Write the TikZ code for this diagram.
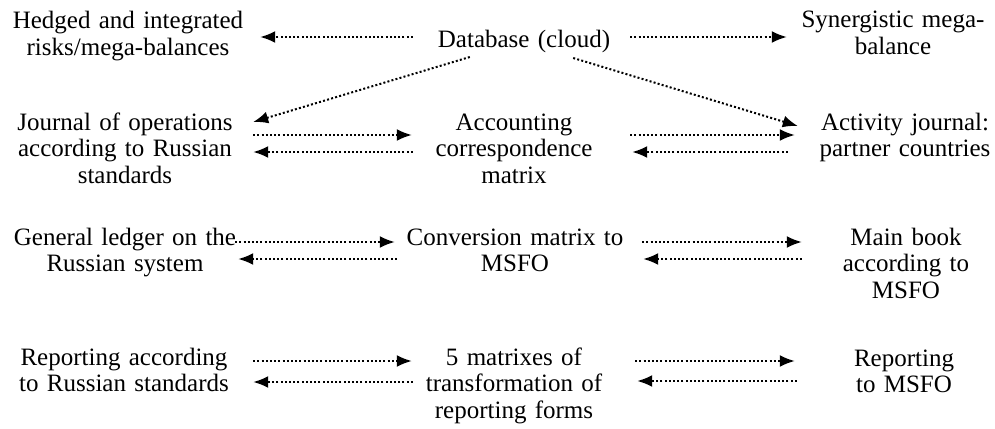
\documentclass[tikz,border=0pt]{standalone}
\usepackage{fontspec}
\setmainfont{Liberation Serif}
\usetikzlibrary{arrows.meta,calc}
\begin{document}
\begin{tikzpicture}[x=1pt,y=-1pt,
  lbl/.style={inner sep=0pt, align=center, font=\fontsize{25}{26.8}\selectfont, anchor=base},
  lcol/.style={lbl, text width=250pt},
  mcol/.style={lbl, text width=250pt},
  rcol/.style={lbl, text width=200pt},
  link/.style={line width=2pt, dash pattern=on 2pt off 2.2pt,
    -{Latex[length=15pt,width=12pt]}}]
\useasboundingbox (0,0) rectangle (995,428);

% text blocks
\node[lcol] (hedge) at (128,29) {Hedged and integrated\\risks/mega-balances};
\node[lbl, text width=200pt] (db) at (524,48) {Database (cloud)};
\node[rcol] (syn) at (893,28) {Synergistic mega-\\balance};
\node[lcol] (jro) at (125,130) {Journal of operations\\according to Russian\\standards};
\node[mcol] (acm) at (514,130) {Accounting\\correspondence\\matrix};
\node[rcol] (act) at (905,130) {Activity journal:\\partner countries};
\node[lcol] (glr) at (125,245) {General ledger on the\\Russian system};
\node[mcol] (cmx) at (515,245) {Conversion matrix to\\MSFO};
\node[rcol] (mbk) at (906,245) {Main book\\according to\\MSFO};
\node[lcol] (rru) at (124,365) {Reporting according\\to Russian standards};
\node[mcol] (tmx) at (514,365) {5 matrixes of\\transformation of\\reporting forms};
\node[rcol] (rms) at (904,366) {Reporting\\to MSFO};

% database links
\draw[link] ($(db.west |- 0,37)+(-11,0)$) -- ($(hedge.east |- 0,37)+(7,0)$);
\draw[link] ($(db.east |- 0,37)+(6,0)$) -- ($(syn.west |- 0,37)+(-6,0)$);
\draw[link] ($(db.west |- 0,57)+(46,0)$) -- ($(jro.east |- 0,122)+(3,0)$);
\draw[link] ($(db.east |- 0,58)+(-51,0)$) -- ($(act.west |- 0,126)+(-7,0)$);

% journals
\draw[link] ($(jro.east |- 0,135)+(3,0)$) -- ($(acm.west |- 0,135)+(23,0)$);
\draw[link] ($(acm.west |- 0,152)+(24,0)$) -- ($(jro.east |- 0,152)+(3,0)$);
\draw[link] ($(acm.east |- 0,135)+(-9,0)$) -- ($(act.west |- 0,135)+(-10,0)$);
\draw[link] ($(act.west |- 0,152)+(-17,0)$) -- ($(acm.east |- 0,152)+(-7,0)$);

% ledgers
\draw[link] ($(glr.east |- 0,242)+(-15,0)$) -- ($(cmx.west |- 0,242)+(5,0)$);
\draw[link] ($(cmx.west |- 0,259)+(7,0)$) -- ($(glr.east |- 0,259)+(-12,0)$);
\draw[link] ($(cmx.east |- 0,242)+(2,0)$) -- ($(mbk.west |- 0,242)+(-4,0)$);
\draw[link] ($(mbk.west |- 0,259)+(-4,0)$) -- ($(cmx.east |- 0,259)+(3,0)$);

% reporting
\draw[link] ($(rru.east |- 0,361)+(4,0)$) -- ($(tmx.west |- 0,361)+(23,0)$);
\draw[link] ($(tmx.west |- 0,382)+(24,0)$) -- ($(rru.east |- 0,382)+(4,0)$);
\draw[link] ($(tmx.east |- 0,361)+(-4,0)$) -- ($(rms.west |- 0,361)+(-9,0)$);
\draw[link] ($(rms.west |- 0,381)+(-7,0)$) -- ($(tmx.east |- 0,381)+(-2,0)$);
\end{tikzpicture}
\end{document}
